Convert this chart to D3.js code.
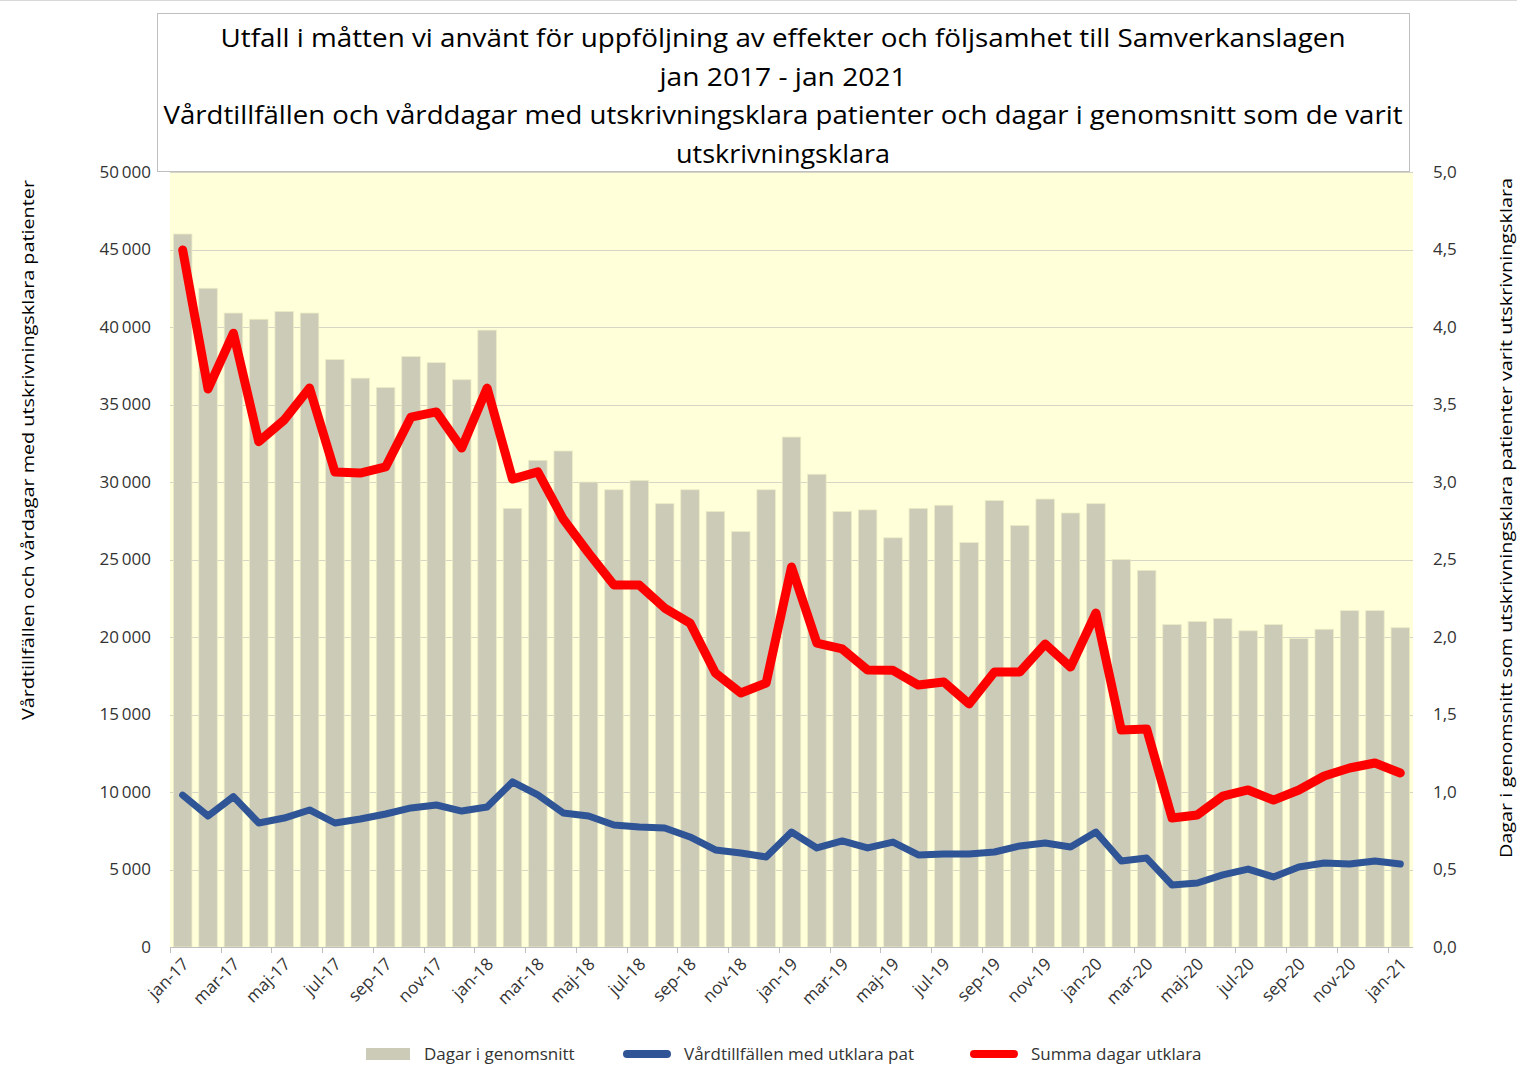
<!DOCTYPE html>
<html>
<head>
<meta charset="utf-8">
<script src="https://cdn.jsdelivr.net/npm/d3@7"></script>
<style>
  body { margin: 0; background: #fff; }
  svg { display: block; font-family: "Open Sans", "Noto Sans", sans-serif; }
  .tick-label { font-size: 17px; fill: #333; }
  .legend-label { font-size: 17px; fill: #333; }
</style>
</head>
<body>
<div id="chart"></div>
<script>

var years = ["17", "18", "19", "20"];
var monthNames = ["jan", "feb", "mar", "apr", "maj", "jun", "jul", "aug", "sep", "okt", "nov", "dec"];

// jan-17 .. jan-21
var months = [];
years.forEach((y) => monthNames.forEach((m) => months.push(m + "-" + y)));
months.push("jan-21");

// Dagar i genomsnitt (right axis)
var avgDays = [
  4.60, 4.25, 4.09, 4.05, 4.10, 4.09, 3.79, 3.67, 3.61, 3.81, 3.77, 3.66,
  3.98, 2.83, 3.14, 3.20, 3.00, 2.95, 3.01, 2.86, 2.95, 2.81, 2.68, 2.95,
  3.29, 3.05, 2.81, 2.82, 2.64, 2.83, 2.85, 2.61, 2.88, 2.72, 2.89, 2.80,
  2.86, 2.50, 2.43, 2.08, 2.10, 2.12, 2.04, 2.08, 1.99, 2.05, 2.17, 2.17,
  2.06
];

// Vårdtillfällen med utklara pat (left axis)
var episodes = [
  9800, 8450, 9700, 8000, 8320, 8840, 8000, 8260, 8580, 8970, 9160, 8770,
  9030, 10650, 9810, 8650, 8450, 7870, 7740, 7680, 7100, 6260, 6060, 5810,
  7420, 6390, 6840, 6390, 6770, 5940, 6000, 6000, 6130, 6520, 6710, 6450,
  7420, 5550, 5740, 4000, 4130, 4650, 5030, 4520, 5160, 5420, 5350, 5550,
  5350
];

// Summa dagar utklara (left axis)
var totalDays = [
  44970, 36000, 39600, 32600, 34000, 36060, 30650, 30580, 30970, 34190, 34520, 32190,
  36060, 30190, 30650, 27610, 25420, 23350, 23350, 21870, 20900, 17680, 16390, 17030,
  24520, 19610, 19230, 17870, 17850, 16900, 17100, 15680, 17740, 17740, 19550, 18060,
  21550, 14000, 14060, 8320, 8520, 9740, 10130, 9480, 10130, 11030, 11550, 11870,
  11230
];

var leftTicks = [0, 5000, 10000, 15000, 20000, 25000, 30000, 35000, 40000, 45000, 50000];
var rightTicks = [0, 0.5, 1, 1.5, 2, 2.5, 3, 3.5, 4, 4.5, 5];

var titleLines = [
  "Utfall i måtten vi använt för  uppföljning av effekter och följsamhet till Samverkanslagen",
  "jan 2017 - jan 2021",
  "Vårdtillfällen och vårddagar med utskrivningsklara patienter och dagar i genomsnitt som de varit",
  "utskrivningsklara"
];
var titleWidths = [1125, 247, 1239, 214];

var leftTitle = "Vårdtillfällen och vårdagar med utskrivningsklara patienter";
var rightTitle = "Dagar i genomsnitt som utskrivningsklara patienter varit utskrivningsklara";

var legendItems = [
  { label: "Dagar i genomsnitt", type: "bar", color: "#cccbb8" },
  { label: "Vårdtillfällen med utklara pat", type: "line", color: "#2f5597" },
  { label: "Summa dagar utklara", type: "line", color: "#ff0000" }
];


var width = 1517, height = 1082;
var plot = { left: 170, right: 1413, top: 172, bottom: 947 };

var svg = d3
  .select("#chart")
  .append("svg")
  .attr("width", width)
  .attr("height", height);

// thin chart border at the very top
svg
  .append("line")
  .attr("x1", 0).attr("x2", width)
  .attr("y1", 0.5).attr("y2", 0.5)
  .attr("stroke", "#d9d9d9");

var x = d3
  .scaleBand()
  .domain(months)
  .range([plot.left, plot.right])
  .paddingInner(0.27)
  .paddingOuter(0.135);

var yLeft = d3.scaleLinear().domain([0, 50000]).range([plot.bottom, plot.top]);
var yRight = d3.scaleLinear().domain([0, 5]).range([plot.bottom, plot.top]);

// plot background
svg
  .append("rect")
  .attr("x", plot.left)
  .attr("y", plot.top)
  .attr("width", plot.right - plot.left)
  .attr("height", plot.bottom - plot.top)
  .attr("fill", "#ffffd9");

// gridlines
svg
  .append("g")
  .attr("class", "grid")
  .selectAll("line")
  .data(leftTicks.slice(1))
  .enter()
  .append("line")
  .attr("x1", plot.left)
  .attr("x2", plot.right)
  .attr("y1", (d) => Math.round(yLeft(d)) + 0.5)
  .attr("y2", (d) => Math.round(yLeft(d)) + 0.5)
  .attr("stroke", "#d6d6c6")
  .attr("stroke-width", 1);

// bars
svg
  .append("g")
  .attr("class", "bars")
  .selectAll("rect")
  .data(avgDays)
  .enter()
  .append("rect")
  .attr("x", (d, i) => x(months[i]))
  .attr("y", (d) => yRight(d))
  .attr("width", x.bandwidth())
  .attr("height", (d) => plot.bottom - yRight(d))
  .attr("fill", "#cccbb8")
  .attr("stroke", "#ecebc4")
  .attr("stroke-width", 0.8);

// x axis line + ticks at category boundaries, every second month
var step = x.step();
svg
  .append("line")
  .attr("x1", plot.left).attr("x2", plot.right)
  .attr("y1", plot.bottom + 0.5).attr("y2", plot.bottom + 0.5)
  .attr("stroke", "#bfbfbf");

var labelMonths = months.filter((m, i) => i % 2 === 0);

svg
  .append("g")
  .attr("class", "x-ticks")
  .selectAll("line")
  .data(labelMonths)
  .enter()
  .append("line")
  .attr("x1", (d) => Math.round(x(d) - (step - x.bandwidth()) / 2) + 0.5)
  .attr("x2", (d) => Math.round(x(d) - (step - x.bandwidth()) / 2) + 0.5)
  .attr("y1", plot.bottom)
  .attr("y2", plot.bottom + 6)
  .attr("stroke", "#bfbfbf");

svg
  .append("g")
  .attr("class", "x-labels")
  .selectAll("text")
  .data(labelMonths)
  .enter()
  .append("text")
  .attr("class", "tick-label")
  .attr("text-anchor", "end")
  .attr("transform", (d) => {
    var cx = x(d) + x.bandwidth() / 2 + 3;
    return "translate(" + cx + "," + (plot.bottom + 14) + ") rotate(-45)";
  })
  .attr("dy", "0.35em")
  .text((d) => d);

// y axes (labels only)
var fmtLeft = (d) => d3.format(",")(d).replace(/,/g, "\u2009");
var fmtRight = (d) => d3.format(".1f")(d).replace(".", ",");

var leftAxis = svg
  .append("g")
  .attr("transform", "translate(" + plot.left + ",0)")
  .call(d3.axisLeft(yLeft).tickValues(leftTicks).tickSize(0).tickPadding(19).tickFormat(fmtLeft));
leftAxis.select(".domain").remove();
leftAxis.selectAll("text").attr("class", "tick-label").attr("fill", null);
leftAxis.attr("font-family", null).attr("font-size", null);

var rightAxis = svg
  .append("g")
  .attr("transform", "translate(" + plot.right + ",0)")
  .call(d3.axisRight(yRight).tickValues(rightTicks).tickSize(0).tickPadding(20).tickFormat(fmtRight));
rightAxis.select(".domain").remove();
rightAxis.selectAll("text").attr("class", "tick-label").attr("fill", null);
rightAxis.attr("font-family", null).attr("font-size", null);

// lines
var line = (yScale) =>
  d3
    .line()
    .x((d, i) => x(months[i]) + x.bandwidth() / 2)
    .y((d) => yScale(d));

svg
  .append("path")
  .datum(episodes)
  .attr("d", line(yLeft))
  .attr("fill", "none")
  .attr("stroke", "#2f5597")
  .attr("stroke-width", 7)
  .attr("stroke-linejoin", "round")
  .attr("stroke-linecap", "round");

svg
  .append("path")
  .datum(totalDays)
  .attr("d", line(yLeft))
  .attr("fill", "none")
  .attr("stroke", "#ff0000")
  .attr("stroke-width", 9)
  .attr("stroke-linejoin", "round")
  .attr("stroke-linecap", "round");

// title box
svg
  .append("rect")
  .attr("x", 157.5)
  .attr("y", 13.5)
  .attr("width", 1252)
  .attr("height", 158)
  .attr("fill", "#ffffff")
  .attr("stroke", "#bfbfbf");

svg
  .append("g")
  .attr("class", "title")
  .selectAll("text")
  .data(titleLines)
  .enter()
  .append("text")
  .attr("x", 783)
  .attr("y", (d, i) => 47 + i * 38.6)
  .attr("text-anchor", "middle")
  .attr("font-size", 25)
  .attr("fill", "#000")
  .attr("textLength", (d, i) => titleWidths[i])
  .attr("lengthAdjust", "spacingAndGlyphs")
  .text((d) => d);

// axis titles
svg
  .append("text")
  .attr("transform", "translate(34,450) rotate(-90)")
  .attr("text-anchor", "middle")
  .attr("font-size", 17)
  .attr("fill", "#000")
  .attr("textLength", 540)
  .attr("lengthAdjust", "spacingAndGlyphs")
  .text(leftTitle);

svg
  .append("text")
  .attr("transform", "translate(1512,518) rotate(-90)")
  .attr("text-anchor", "middle")
  .attr("font-size", 17)
  .attr("fill", "#000")
  .attr("textLength", 680)
  .attr("lengthAdjust", "spacingAndGlyphs")
  .text(rightTitle);

// legend
var legendX = [366, 623, 970];
var legend = svg
  .append("g")
  .attr("class", "legend")
  .selectAll("g")
  .data(legendItems)
  .enter()
  .append("g")
  .attr("transform", (d, i) => "translate(" + legendX[i] + ",1054)");

legend
  .filter((d) => d.type === "bar")
  .append("rect")
  .attr("x", 0).attr("y", -6)
  .attr("width", 44).attr("height", 12)
  .attr("fill", (d) => d.color);

legend
  .filter((d) => d.type === "line")
  .append("line")
  .attr("x1", 4).attr("x2", 44)
  .attr("y1", 0).attr("y2", 0)
  .attr("stroke", (d) => d.color)
  .attr("stroke-width", 8)
  .attr("stroke-linecap", "round");

legend
  .append("text")
  .attr("class", "legend-label")
  .attr("x", (d) => (d.type === "bar" ? 58 : 61))
  .attr("dy", "0.35em")
  .text((d) => d.label);

</script>
</body>
</html>
